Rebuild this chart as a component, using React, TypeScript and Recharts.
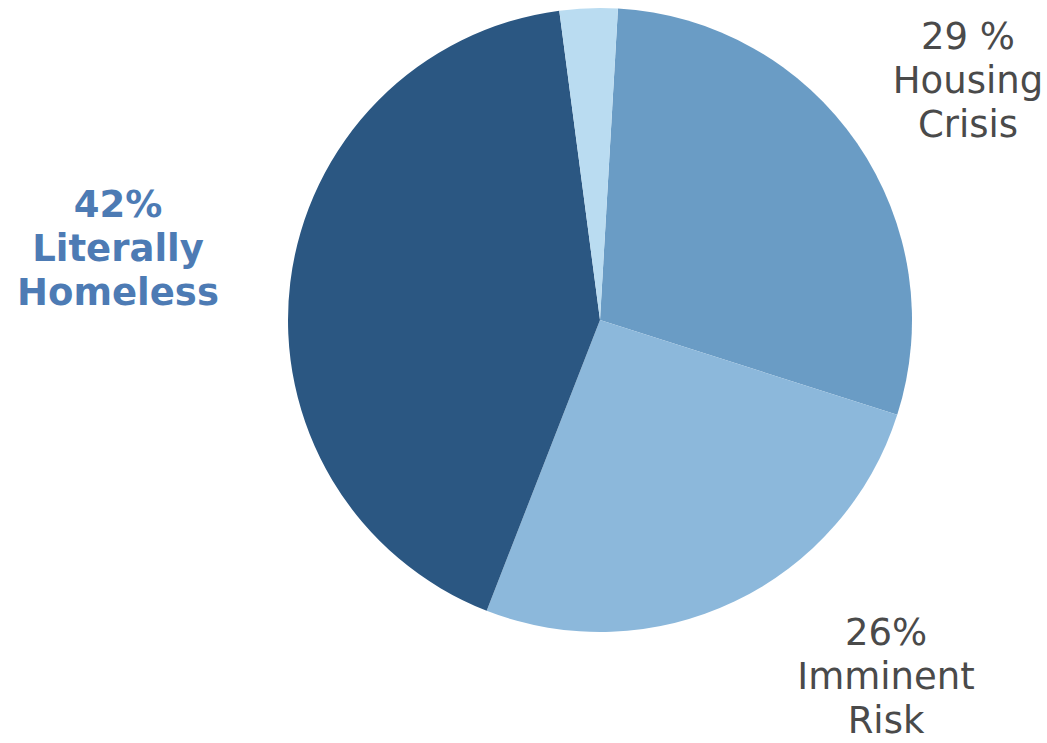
import { Cell, Pie, PieChart } from 'recharts';

const categories = ['Housing Crisis', 'Imminent Risk', 'Literally Homeless', 'Other'];
const shares = [29, 26, 42, 3];
const percentLabels = ['29 %', '26%', '42%', ''];
const nameLines = [['Housing', 'Crisis'], ['Imminent', 'Risk'], ['Literally', 'Homeless'], []];

const COLORS = ['#6a9cc5', '#8cb8db', '#2b5782', '#badcf1'];

// label anchor relative to pie centre (first baseline), and styling
const LABEL_STYLE = [
    { dx: 368, dy: -271, fill: '#4a4a4a', bold: false },
    { dx: 286, dy: 325, fill: '#4a4a4a', bold: false },
    { dx: -482, dy: -103, fill: '#4d7bb4', bold: true },
    { dx: 0, dy: 0, fill: '#4a4a4a', bold: false },
];

const data = categories.map((name, i) => ({ name, value: shares[i] }));

function renderLabel(props: any) {
    const { cx, cy, index } = props;
    const s = LABEL_STYLE[index];
    const lines = [percentLabels[index], ...nameLines[index]].filter((l) => l !== '');
    if (!lines.length) return null;
    const x = cx + s.dx;
    const y = cy + s.dy;
    return (
        <text
            x={x}
            y={y}
            textAnchor="middle"
            fill={s.fill}
            fontSize={37}
            fontWeight={s.bold ? 'bold' : 'normal'}
            fontFamily="'DejaVu Sans', Verdana, sans-serif"
        >
            {lines.map((l, i) => (
                <tspan key={i} x={x} y={y + i * 44}>
                    {l}
                </tspan>
            ))}
        </text>
    );
}

export default function App() {
    return (
        <div style={{ position: 'absolute', left: 0, top: 0, background: '#fff' }}>
            <PieChart width={1047} height={743} margin={{ top: 0, right: 0, bottom: 0, left: 0 }}>
                <Pie
                    data={data}
                    dataKey="value"
                    nameKey="name"
                    cx={600}
                    cy={320}
                    outerRadius={312}
                    startAngle={86.7}
                    endAngle={-273.3}
                    stroke="none"
                    label={renderLabel}
                    labelLine={false}
                    isAnimationActive={false}
                >
                    {data.map((d, i) => (
                        <Cell key={d.name} fill={COLORS[i]} />
                    ))}
                </Pie>
            </PieChart>
        </div>
    );
}
